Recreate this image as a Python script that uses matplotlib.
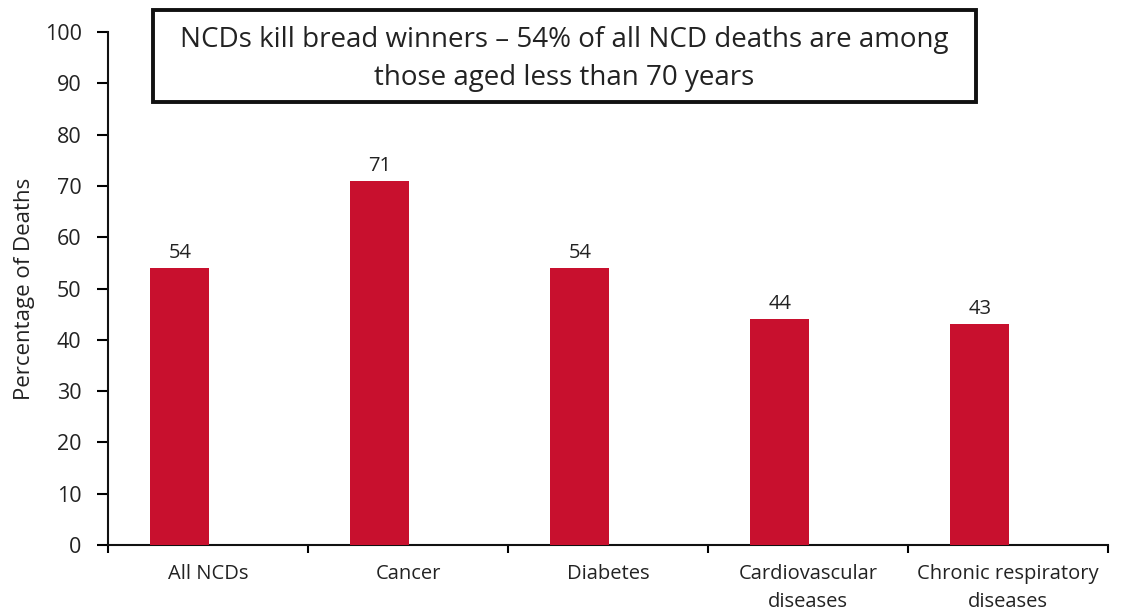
import matplotlib
matplotlib.use("Agg")
import matplotlib.pyplot as plt
from matplotlib.patches import Rectangle
import numpy as np

categories = ["All NCDs", "Cancer", "Diabetes", "Cardiovascular\ndiseases", "Chronic respiratory\ndiseases"]
values = [54, 71, 54, 44, 43]
y_ticks = [0, 10, 20, 30, 40, 50, 60, 70, 80, 90, 100]
title_text = "NCDs kill bread winners \u2013 54% of all NCD deaths are among\nthose aged less than 70 years"
y_label = "Percentage of Deaths"

plt.rcParams['font.family'] = ['Open Sans', 'DejaVu Sans']

fig = plt.figure(figsize=(11.27, 6.13), dpi=100)
ax = fig.add_axes([0.0958, 0.1109, 0.9831 - 0.0958, 0.9478 - 0.1109])

x = np.arange(len(categories))
bar_offset = -0.14
bar_width = 0.295
color = '#C8102E'
ax.bar(x + bar_offset, values, width=bar_width, color=color, zorder=3)
for xi, v in zip(x, values):
    ax.text(xi + bar_offset, v + 1.0, str(v), ha='center', va='bottom', fontsize=14.5, color='#222222')

ax.set_xlim(-0.5, len(categories) - 0.5)
ax.set_ylim(0, 100)
ax.set_yticks(y_ticks)
ax.set_xticks(np.arange(-0.5, len(categories)), minor=False)
ax.set_xticklabels([])
ax.set_xticks(x, minor=True)
ax.set_xticklabels(categories, minor=True, fontsize=14.5, color='#222222', linespacing=1.5)
ax.tick_params(axis='x', which='minor', length=0, pad=14)
ax.tick_params(axis='x', which='major', length=6, width=1.5, direction='out')
ax.tick_params(axis='y', length=8, width=1.5, pad=11, labelsize=15.5, labelcolor='#222222')

for s in ['top', 'right']:
    ax.spines[s].set_visible(False)
for s in ['left', 'bottom']:
    ax.spines[s].set_linewidth(1.5)
    ax.spines[s].set_color('#111111')

ax.set_ylabel(y_label, fontsize=16, color='#222222', labelpad=7)

# Title box
left_px, right_px, top_px, bot_px = 153, 976, 10, 102
W, H = 1127, 613
rect = Rectangle((left_px / W, 1 - bot_px / H), (right_px - left_px) / W, (bot_px - top_px) / H,
                 transform=fig.transFigure, fill=True, facecolor='white', edgecolor='#111111',
                 linewidth=2.8, zorder=5)
fig.patches.append(rect)
fig.text((left_px + right_px) / 2 / W, 1 - (top_px + bot_px + 6) / 2 / H, title_text,
         ha='center', va='center', fontsize=20, color='#222222', linespacing=1.45, zorder=6)

fig.savefig("out.png", dpi=100)
